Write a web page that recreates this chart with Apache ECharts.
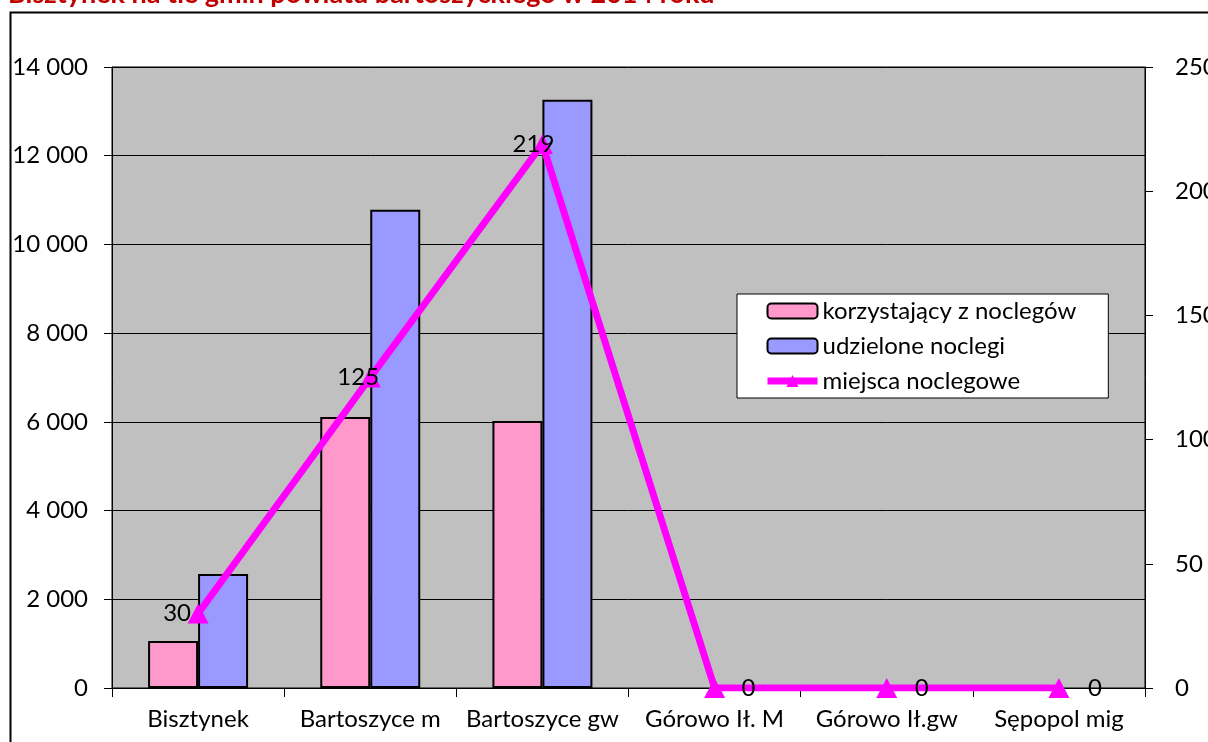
<!DOCTYPE html>
<html>
<head>
<meta charset="utf-8">
<script src="https://cdn.jsdelivr.net/npm/echarts@6/dist/echarts.min.js"></script>
<style>
html, body { margin: 0; padding: 0; background: #fff; }
#main { width: 1208px; height: 742px; }
</style>
</head>
<body>
<div id="main"></div>
<script>
// dane
var gminy = ['Bisztynek', 'Bartoszyce m', 'Bartoszyce gw', 'Górowo Ił. M', 'Górowo Ił.gw', 'Sępopol mig'];
var korzystajacy = [1060, 6110, 6020, 0, 0, 0];
var udzielone = [2570, 10780, 13260, 0, 0, 0];
var miejsca = [30, 125, 219, 0, 0, 0];
var tytul = 'Bisztynek na tle gmin powiatu bartoszyckiego w 2014 roku';

// przesuniecie etykiet linii
var labelShift = [-21, -12, -9, 34, 35, 36];

var font = 'Lato, "Open Sans", sans-serif';
var fs = 24;

function spacje(v) {
    return String(v).replace(/\B(?=(\d{3})+(?!\d))/g, ' ');
}

// słupki o wartości 0 bez obramowania
function slupki(arr) {
    return arr.map(function (v) {
        return v === 0 ? { value: v, itemStyle: { borderWidth: 0 } } : v;
    });
}

var myChart = echarts.init(document.getElementById('main'));
var option = {
    animation: false,
    textStyle: { fontFamily: font },
    graphic: [
        {
            type: 'rect',
            left: 8, top: 10, z: -10,
            shape: { width: 1400, height: 900 },
            style: { fill: 'none', stroke: '#000', lineWidth: 2 }
        },
        {
            type: 'text',
            left: 8, top: -19,
            style: {
                text: tytul,
                fill: '#C00000',
                font: 'bold 27px ' + font
            }
        }
    ],
    grid: {
        left: 112, right: 63, top: 67, bottom: 54,
        outerBoundsMode: 'none',
        containLabel: false,
        show: true,
        backgroundColor: '#C0C0C0',
        borderColor: '#000',
        borderWidth: 1
    },
    legend: {
        orient: 'vertical',
        left: 737, top: 294,
        backgroundColor: '#fff',
        borderColor: '#000',
        borderWidth: 1,
        padding: [5, 32, 5, 27],
        itemWidth: 50,
        itemHeight: 15,
        itemGap: 11,
        textStyle: { fontSize: fs, color: '#000', fontFamily: font },
        data: [
            'korzystający z noclegów',
            'udzielone noclegi',
            { name: 'miejsca noclegowe', lineStyle: { width: 7 } }
        ]
    },
    xAxis: {
        type: 'category',
        data: gminy,
        axisLine: { lineStyle: { color: '#000', width: 1 } },
        axisTick: { show: true, interval: 0, length: 9, lineStyle: { color: '#000' } },
        axisLabel: { interval: 0, fontSize: fs, color: '#000', margin: 19 }
    },
    yAxis: [
        {
            type: 'value',
            min: 0, max: 14000, interval: 2000,
            axisLine: { show: true, lineStyle: { color: '#000' } },
            axisTick: { show: true, length: 8, lineStyle: { color: '#000' } },
            axisLabel: { fontSize: fs, color: '#000', margin: 24, formatter: spacje },
            splitLine: { lineStyle: { color: '#000', width: 1 } }
        },
        {
            type: 'value',
            min: 0, max: 250, interval: 50,
            axisLine: { show: true, lineStyle: { color: '#000' } },
            axisTick: { show: true, length: 8, lineStyle: { color: '#000' } },
            axisLabel: { fontSize: fs, color: '#000', margin: 30 },
            splitLine: { show: false }
        }
    ],
    series: [
        {
            name: 'korzystający z noclegów',
            type: 'bar',
            data: slupki(korzystajacy),
            barWidth: 50,
            barGap: '0%',
            itemStyle: { color: '#FF99CC', borderColor: '#000', borderWidth: 2 }
        },
        {
            name: 'udzielone noclegi',
            type: 'bar',
            data: slupki(udzielone),
            barWidth: 50,
            itemStyle: { color: '#9999FF', borderColor: '#000', borderWidth: 2 }
        },
        {
            name: 'miejsca noclegowe',
            type: 'line',
            yAxisIndex: 1,
            data: miejsca.map(function (v, i) {
                return { value: v, label: { offset: [labelShift[i], 0] } };
            }),
            symbol: 'triangle',
            symbolSize: [21, 20],
            lineStyle: { color: '#FF00FF', width: 7 },
            itemStyle: { color: '#FF00FF' },
            z: 5,
            label: {
                show: true,
                position: 'inside',
                color: '#000',
                fontSize: fs,
                fontFamily: font
            }
        }
    ]
};
myChart.setOption(option);
window.addEventListener('resize', function () {
    myChart.resize();
});
</script>
</body>
</html>
